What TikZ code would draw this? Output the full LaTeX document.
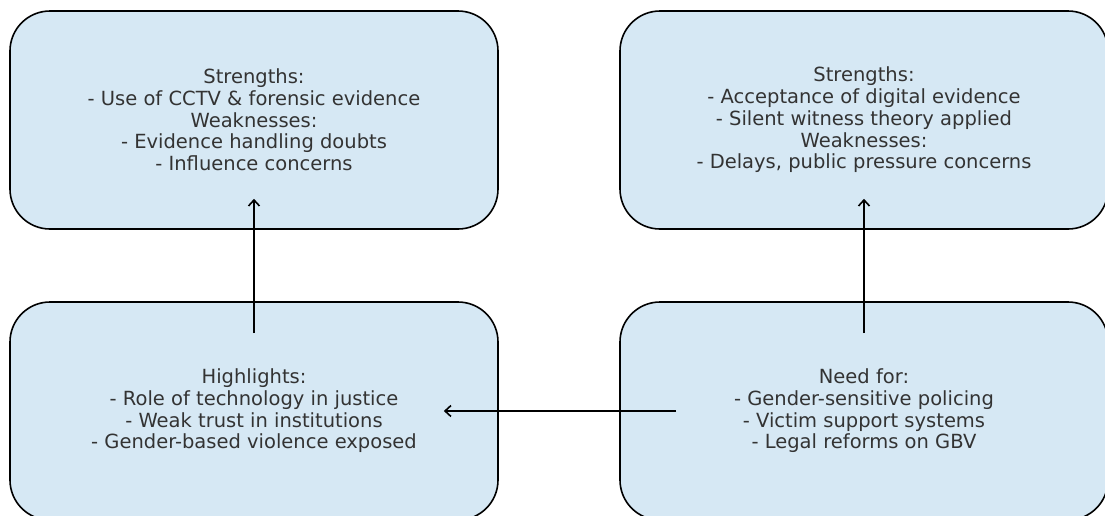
\documentclass[tikz,border=0pt]{standalone}
\usepackage{fontspec}
\setmainfont{DejaVu Sans}
\usetikzlibrary{positioning,arrows.meta}
\definecolor{boxblue}{HTML}{D6E8F4}
\definecolor{boxtext}{HTML}{333333}

\begin{document}
\begin{tikzpicture}[
  x=1pt, y=-1pt,
  panel/.style={draw, fill=boxblue, rounded corners=40pt, line width=1.6pt,
                minimum width=488pt, minimum height=218pt, align=center,
                text=boxtext, inner sep=0pt,
                font=\fontsize{19.5}{21.7}\selectfont},
  flow/.style={-{Straight Barb[length=6pt, width=11pt]}, line width=1.6pt},
]
  \useasboundingbox (0,0) rectangle (1105,515);

  \node[panel] (strL) at (254,120)
    {Strengths:\\- Use of CCTV \& forensic evidence\\Weaknesses:\\
     - Evidence handling doubts\\- Influence concerns};
  \node[panel] (strR) at (864,120)
    {Strengths:\\- Acceptance of digital evidence\\- Silent witness theory applied\\
     Weaknesses:\\- Delays, public pressure concerns};
  \node[panel] (high) at (254,411)
    {Highlights:\\- Role of technology in justice\\- Weak trust in institutions\\
     - Gender-based violence exposed};
  \node[panel] (need) at (864,411)
    {Need for:\\- Gender-sensitive policing\\- Victim support systems\\
     - Legal reforms on GBV};

  \draw[flow, shorten <=-32pt, shorten >=-31pt] (high.north) -- (strL.south);
  \draw[flow, shorten <=-32pt, shorten >=-31pt] (need.north) -- (strR.south);
  \draw[flow, shorten <=-57pt, shorten >=-55pt] (need.west) -- (high.east);
\end{tikzpicture}
\end{document}
